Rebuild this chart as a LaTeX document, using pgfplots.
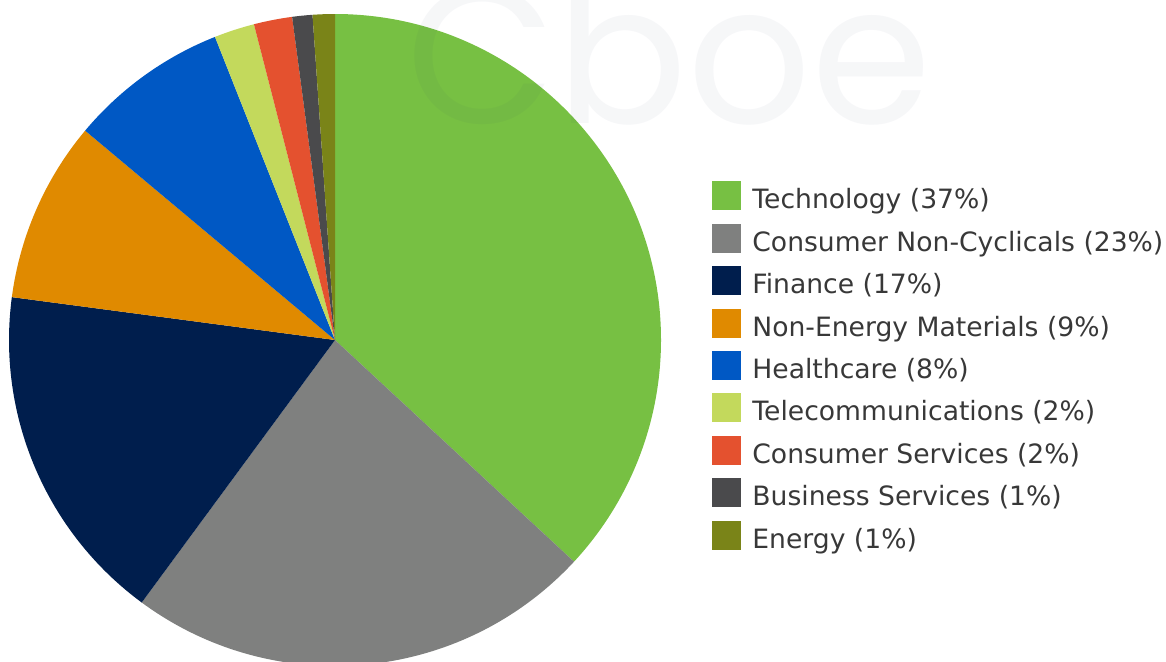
\documentclass[border=0pt]{standalone}
\usepackage{pgfplots}
\pgfplotsset{compat=1.18}
\usepackage{pgfplotstable}
\usepackage{fontspec}
\setmainfont{DejaVu Sans}
\newfontfamily\wmfont{Poppins}

\definecolor{c0}{HTML}{77C043}
\definecolor{c1}{HTML}{7F807F}
\definecolor{c2}{HTML}{001E4D}
\definecolor{c3}{HTML}{E08A00}
\definecolor{c4}{HTML}{0058C4}
\definecolor{c5}{HTML}{C3D95C}
\definecolor{c6}{HTML}{E4512F}
\definecolor{c7}{HTML}{4A4A4C}
\definecolor{c8}{HTML}{7A8418}
\definecolor{txt}{HTML}{383838}
\definecolor{wm}{HTML}{2C3E66}

% share of each sector, in percent, clockwise from the top
\pgfplotstableread{
idx value
0 36.9
1 23.2
2 17.0
3 9.0
4 7.9
5 2.0
6 1.9
7 1.0
8 1.1
}\piedata

\begin{document}
\begin{tikzpicture}
\begin{axis}[
  width=583pt, height=330.5pt, scale only axis,
  xmin=0, xmax=1166, ymin=0, ymax=661,
  hide axis, clip=false,
  legend image code/.code={\fill[#1, draw=none] (0pt,-4.3pt) rectangle (14.5pt,10.2pt);},
  legend cell align=left,
  legend style={
    at={(axis cs:712,480)}, anchor=north west,
    draw=none, fill=none, inner sep=0pt,
    font=\fontsize{13.3}{15}\selectfont, text=txt,
    nodes={inner sep=0pt},
    row sep=4.5pt,
    /tikz/every odd column/.append style={column sep=5.5pt},
    /tikz/every even column/.append style={nodes={text depth=3pt, text height=10pt}},
  },
]
\def\startA{90}
\pgfplotsforeachungrouped \i in {0,...,8}{%
  \pgfplotstablegetelem{\i}{value}\of\piedata
  \pgfmathsetmacro\endA{\startA-3.6*\pgfplotsretval}%
  \edef\temp{\noexpand\fill[c\i] (axis cs:335,321) -- ++(\startA:163pt) arc[start angle=\startA, end angle=\endA, radius=163pt] -- cycle;}%
  \temp
  \global\let\startA\endA
}
\node[overlay, anchor=base west, inner sep=0pt, text=wm, text opacity=0.045,
      font=\wmfont\fontsize{97}{97}\selectfont] at (axis cs:406,538) {Cboe};
\addlegendimage{fill=c0}\addlegendentry{Technology (37\%)}
\addlegendimage{fill=c1}\addlegendentry{Consumer Non-Cyclicals (23\%)}
\addlegendimage{fill=c2}\addlegendentry{Finance (17\%)}
\addlegendimage{fill=c3}\addlegendentry{Non-Energy Materials (9\%)}
\addlegendimage{fill=c4}\addlegendentry{Healthcare (8\%)}
\addlegendimage{fill=c5}\addlegendentry{Telecommunications (2\%)}
\addlegendimage{fill=c6}\addlegendentry{Consumer Services (2\%)}
\addlegendimage{fill=c7}\addlegendentry{Business Services (1\%)}
\addlegendimage{fill=c8}\addlegendentry{Energy (1\%)}
\end{axis}
\pgfresetboundingbox
\useasboundingbox (current axis.south west) rectangle (current axis.north east);
\end{tikzpicture}
\end{document}
